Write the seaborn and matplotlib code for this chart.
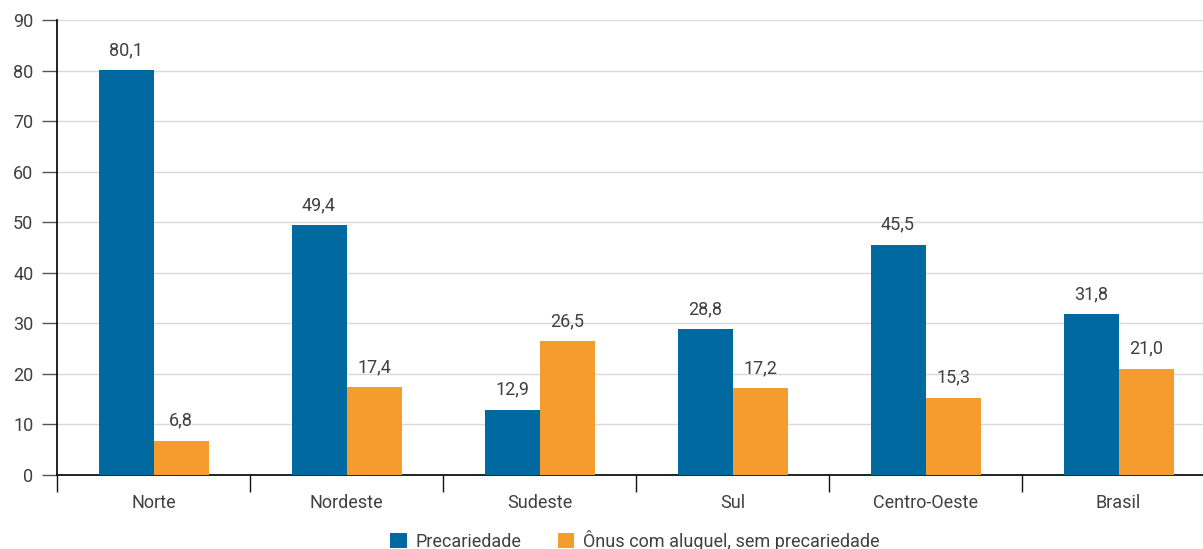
import matplotlib
matplotlib.use("Agg")
import matplotlib.pyplot as plt
import pandas as pd
import seaborn as sns

regioes = ["Norte", "Nordeste", "Sudeste", "Sul", "Centro-Oeste", "Brasil"]
precariedade = [80.1, 49.4, 12.9, 28.8, 45.5, 31.8]
onus_aluguel = [6.8, 17.4, 26.5, 17.2, 15.3, 21.0]
series = ["Precariedade", "Ônus com aluguel, sem precariedade"]
cores = ["#0069a0", "#f49c2e"]

df = pd.DataFrame({
    "regiao": regioes * 2,
    "valor": precariedade + onus_aluguel,
    "serie": [series[0]] * len(regioes) + [series[1]] * len(regioes),
})

sns.set_theme(style="white")
plt.rcParams["font.family"] = ["Roboto", "DejaVu Sans"]
texto = "#404040"

fig = plt.figure(figsize=(12.03, 5.49), dpi=100)
# o eixo passa um pouco da borda direita, como no original
ax = fig.add_axes([0.0474, 0.1348, 0.9626, 0.8288])

sns.barplot(data=df, x="regiao", y="valor", hue="serie", palette=cores,
            width=0.57, saturation=1, linewidth=0, ax=ax, zorder=3)

# rótulos de dados
for cont in ax.containers:
    ax.bar_label(cont, labels=[f"{v:.1f}".replace(".", ",") for v in cont.datavalues],
                 padding=8, fontsize=13, color=texto)

ax.set_ylim(0, 90)
ax.set_xlim(-0.5, 5.5)
ax.set_yticks(range(0, 91, 10))
ax.yaxis.grid(True, color="#d9d9d9", linewidth=1, zorder=0)
ax.set_axisbelow(True)
ax.set_xlabel("")
ax.set_ylabel("")

for s in ["top", "right"]:
    ax.spines[s].set_visible(False)
for s in ["left", "bottom"]:
    ax.spines[s].set_color("#111111")
    ax.spines[s].set_linewidth(1.3)

ax.tick_params(axis="y", length=11, width=1, color="#555555", labelsize=13,
               labelcolor=texto, pad=6, left=True)
ax.tick_params(axis="x", which="major", length=0, labelsize=13, labelcolor=texto, pad=14)
ax.set_xticks([i - 0.5 for i in range(6)], minor=True)
ax.tick_params(axis="x", which="minor", length=12, width=1, color="#111111", bottom=True)

leg = ax.legend(loc="center", bbox_to_anchor=(0.499, -0.143), ncol=2,
                frameon=False, fontsize=13, handlelength=0.9, handleheight=0.9,
                handletextpad=0.5, columnspacing=2.0, borderaxespad=0)
for t in leg.get_texts():
    t.set_color(texto)

fig.savefig("out.png", dpi=100)
